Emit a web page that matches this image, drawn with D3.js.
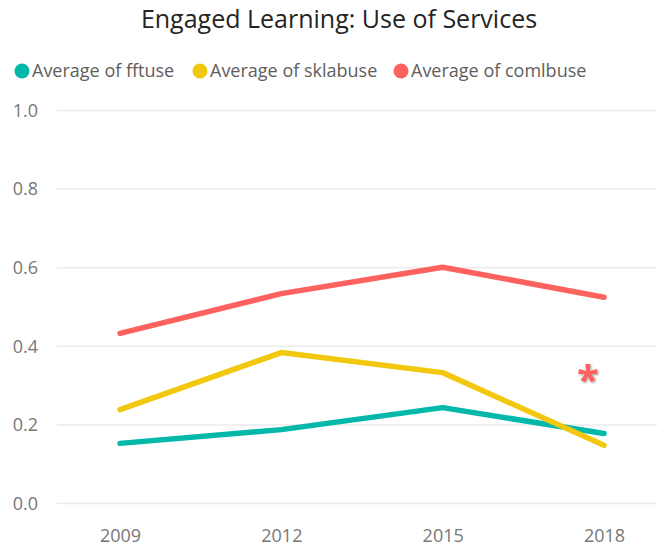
<!DOCTYPE html>
<html>
<head>
<meta charset="utf-8">
<script src="https://cdn.jsdelivr.net/npm/d3@7"></script>
<style>
  body { margin: 0; background: #fff; }
  text { font-family: "Open Sans", "Noto Sans", sans-serif; }
</style>
</head>
<body>
<div id="chart"></div>
<script>
// chart data
var years = ["2009", "2012", "2015", "2018"];
var fftuse = [0.153, 0.188, 0.244, 0.178];
var sklabuse = [0.239, 0.384, 0.333, 0.148];
var comlbuse = [0.433, 0.534, 0.601, 0.525];
var series_names = ["Average of fftuse", "Average of sklabuse", "Average of comlbuse"];
var y_ticks = [0, 0.2, 0.4, 0.6, 0.8, 1.0];

var colors = ["#01B8AA", "#F2C80F", "#FD625E"];
var series = [fftuse, sklabuse, comlbuse];

var width = 657, height = 547;

var svg = d3.select("#chart").append("svg")
    .attr("width", width)
    .attr("height", height);

var x = d3.scalePoint().domain(years).range([120, 604]);
var y = d3.scaleLinear().domain([0, 1]).range([503.5, 110.5]);

// title
svg.append("text")
    .attr("x", 339)
    .attr("y", 28)
    .attr("text-anchor", "middle")
    .attr("font-size", "25px")
    .attr("fill", "#252423")
    .text("Engaged Learning: Use of Services");

// legend
var legend_x = [22, 200, 401];
var lg = svg.append("g").selectAll("g")
    .data(series_names)
    .enter()
    .append("g")
    .attr("transform", function(d, i) { return "translate(" + legend_x[i] + ",71)"; });
lg.append("circle")
    .attr("r", 7.5)
    .attr("fill", function(d, i) { return colors[i]; });
lg.append("text")
    .attr("x", 10)
    .attr("y", 6)
    .attr("font-size", "18px")
    .attr("fill", "#605E5C")
    .text(function(d) { return d; });

// grid y lines
svg.append("g")
    .selectAll("line")
    .data(y_ticks)
    .enter()
    .append("line")
    .style("stroke", "#ebebeb")
    .style("stroke-width", 1.5)
    .attr("x1", 57)
    .attr("x2", width)
    .attr("y1", function(d) { return y(d); })
    .attr("y2", function(d) { return y(d); });

// y axis
svg.append("g")
    .attr("transform", "translate(38,0)")
    .call(d3.axisLeft(y).tickValues(y_ticks).tickFormat(d3.format(".1f")).tickSize(0).tickPadding(0))
    .call(function(g) { g.select(".domain").remove(); })
    .call(function(g) {
        g.selectAll("text")
            .attr("font-size", "18px")
            .attr("fill", "#777")
            .attr("font-family", "\"Open Sans\", sans-serif");
    });

// x axis
svg.append("g")
    .attr("transform", "translate(0,529)")
    .call(d3.axisBottom(x).tickSize(0).tickPadding(0))
    .call(function(g) { g.select(".domain").remove(); })
    .call(function(g) {
        g.selectAll("text")
            .attr("font-size", "18px")
            .attr("fill", "#777")
            .attr("font-family", "\"Open Sans\", sans-serif");
    });

// lines
var line = d3.line()
    .x(function(d, i) { return x(years[i]); })
    .y(function(d) { return y(d); });

svg.append("g")
    .selectAll("path")
    .data(series)
    .enter()
    .append("path")
    .attr("d", line)
    .attr("fill", "none")
    .attr("stroke", function(d, i) { return colors[i]; })
    .attr("stroke-width", 5.5)
    .attr("stroke-linecap", "round")
    .attr("stroke-linejoin", "round");

// asterisk marker
var defs = svg.append("defs");
var f = defs.append("filter").attr("id", "shadow");
f.append("feDropShadow")
    .attr("dx", 1).attr("dy", 1)
    .attr("stdDeviation", 1)
    .attr("flood-color", "#888")
    .attr("flood-opacity", 0.8);

svg.append("text")
    .attr("x", 588)
    .attr("y", 394)
    .attr("text-anchor", "middle")
    .attr("font-size", "40px")
    .attr("font-weight", "bold")
    .attr("fill", "#FD625E")
    .attr("filter", "url(#shadow)")
    .text("*");
</script>
</body>
</html>
